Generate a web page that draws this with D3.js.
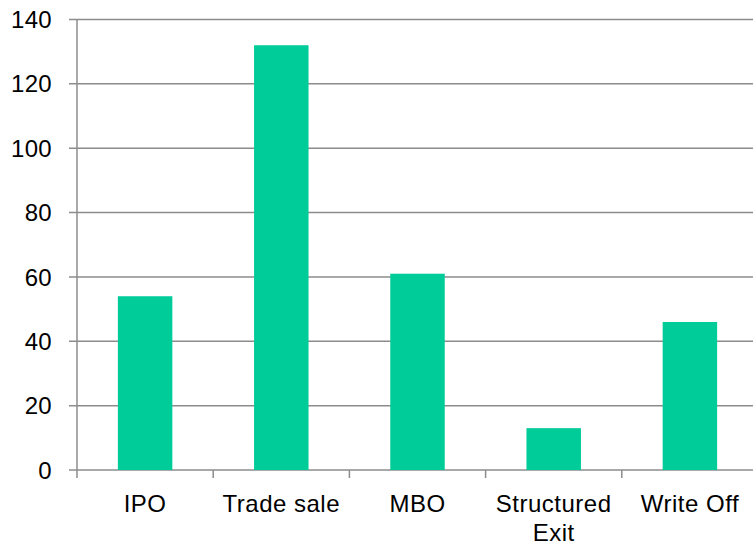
<!DOCTYPE html>
<html><head><meta charset="utf-8">
<script src="https://cdn.jsdelivr.net/npm/d3@7"></script>
<style>html,body{margin:0;padding:0;background:#fff;}</style>
</head><body>
<svg id="c" width="753" height="545"></svg>
<script>
const categories = ["IPO", "Trade sale", "MBO", "Structured\nExit", "Write Off"];
const values = [54, 132, 61, 13, 46];
const yTicks = [0, 20, 40, 60, 80, 100, 120, 140];

(function() {
const svg = d3.select("#c");
const pLeft = 77, pRight = 758, pTop = 19.5, pBottom = 470;
const font = "'Liberation Sans', Arial, sans-serif";
const fs = 24;
const grey = "#8c8c8c";

const x = d3.scaleBand().domain(categories).range([pLeft, pRight]).paddingInner(0.6).paddingOuter(0.3);
const y = d3.scaleLinear().domain([0, 140]).range([pBottom, pTop]);

svg.append("g").selectAll("line").data(yTicks).join("line")
  .attr("x1", pLeft - 8).attr("x2", 753)
  .attr("y1", d => y(d)).attr("y2", d => y(d))
  .attr("stroke", grey).attr("stroke-width", 1.5);

svg.append("line").attr("x1", pLeft).attr("x2", pLeft).attr("y1", y(140)).attr("y2", pBottom + 8)
  .attr("stroke", grey).attr("stroke-width", 1.5);

svg.append("g").selectAll("text").data(yTicks).join("text")
  .attr("x", 52).attr("y", d => y(d)).attr("dy", "0.36em")
  .attr("text-anchor", "end").attr("font-family", font).attr("font-size", fs).attr("fill", "#000")
  .attr("letter-spacing", 0.3)
  .text(d => d);

svg.append("g").selectAll("rect").data(values).join("rect")
  .attr("x", (d, i) => x(categories[i])).attr("width", x.bandwidth())
  .attr("y", d => y(d)).attr("height", d => y(0) - y(d))
  .attr("fill", "#00cc99");

const bounds = categories.map((c, i) => pLeft + (i + 1) * x.step());
svg.append("g").selectAll("line").data(bounds).join("line")
  .attr("x1", d => d).attr("x2", d => d).attr("y1", pBottom).attr("y2", pBottom + 8)
  .attr("stroke", grey).attr("stroke-width", 1.5);

const xl = svg.append("g").selectAll("text").data(categories).join("text")
  .attr("text-anchor", "middle").attr("font-family", font).attr("font-size", fs).attr("fill", "#000")
  .attr("letter-spacing", 0.5)
  .attr("transform", d => `translate(${x(d) + x.bandwidth() / 2},512)`);
xl.each(function(d) {
  const t = d3.select(this);
  d.split("\n").forEach((ln, k) => t.append("tspan").attr("x", 0).attr("y", k * 29).text(ln));
});
})();
</script>
</body></html>
